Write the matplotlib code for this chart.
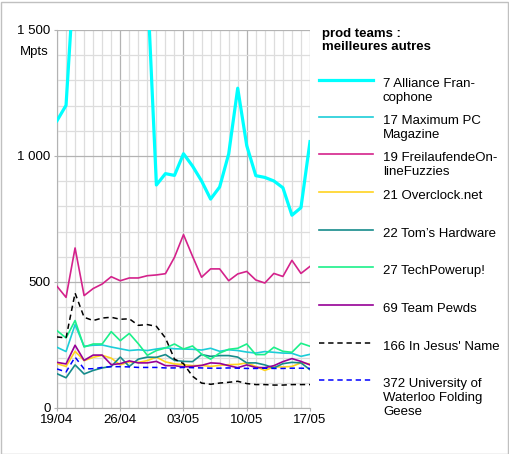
import numpy as np
import matplotlib
matplotlib.use("Agg")
import matplotlib.pyplot as plt
from matplotlib.lines import Line2D
from matplotlib.patches import Rectangle
from matplotlib.ticker import MultipleLocator, FixedLocator

plt.rcParams['font.family'] = ['Liberation Sans', 'DejaVu Sans']

days = list(range(29))
date_labels = ['19/04', '26/04', '03/05', '10/05', '17/05']
y_ticks = [0, 500, 1000, 1500]
y_labels = ['0', '500', '1 000', '1 500']

alliance = [1140, 1201, 1780, 1850, 1900, 1880, 1920, 1900, 1870, 1820, 1680, 885, 930, 923,
            1009, 960, 901, 829, 877, 1008, 1269, 1041, 922, 915, 901, 874, 765, 795, 1057]
maximum_pc = [241, 224, 331, 245, 249, 250, 242, 235, 228, 231, 228, 234, 239, 235, 234,
              233, 230, 237, 225, 231, 228, 222, 218, 224, 221, 218, 217, 205, 213]
freilaufende = [483, 439, 635, 446, 474, 492, 521, 505, 516, 516, 525, 528, 533, 598, 688,
                602, 519, 552, 552, 505, 532, 542, 508, 496, 534, 522, 586, 534, 562]
overclock = [176, 165, 225, 188, 201, 209, 198, 171, 183, 181, 188, 202, 183, 175, 172,
             168, 169, 165, 169, 172, 173, 179, 165, 149, 163, 163, 165, 179, 175]
toms = [136, 120, 171, 135, 149, 159, 165, 202, 165, 194, 202, 201, 212, 189, 185,
        184, 212, 205, 208, 208, 202, 179, 179, 171, 159, 176, 181, 179, 152]
techpowerup = [307, 278, 347, 242, 254, 254, 303, 267, 296, 255, 209, 228, 238, 254, 234,
               246, 214, 194, 218, 233, 237, 254, 212, 212, 241, 225, 221, 257, 245]
pewds = [181, 175, 249, 189, 210, 210, 172, 176, 187, 179, 179, 185, 168, 168, 163,
         165, 169, 179, 177, 168, 160, 171, 161, 160, 168, 184, 196, 185, 171]
jesus = [282, 278, 456, 360, 347, 357, 360, 352, 354, 328, 331, 324, 278, 194, 176,
         126, 99, 94, 99, 102, 106, 97, 93, 93, 91, 91, 93, 93, 93]
waterloo = [155, 143, 202, 155, 156, 161, 164, 164, 163, 161, 161, 161, 159, 159, 161,
            160, 159, 158, 158, 159, 158, 157, 157, 158, 157, 157, 158, 158, 157]

series = [
    ("7 Alliance Fran-\ncophone", alliance, '#00ffff', 2.3, '-'),
    ("17 Maximum PC\nMagazine", maximum_pc, '#1ccdd8', 1.2, '-'),
    ("19 FreilaufendeOn-\nlineFuzzies", freilaufende, '#d4228b', 1.2, '-'),
    ("21 Overclock.net", overclock, '#ffd320', 1.2, '-'),
    ("22 Tom\u2019s Hardware", toms, '#168b8b', 1.2, '-'),
    ("27 TechPowerup!", techpowerup, '#1bf08a', 1.2, '-'),
    ("69 Team Pewds", pewds, '#960096', 1.2, '-'),
    ("166 In Jesus' Name", jesus, '#000000', 1.1, (0, (3.5, 2.5))),
    ("372 University of\nWaterloo Folding\nGeese", waterloo, '#0000ff', 1.1, (0, (3.5, 2.5))),
]

fig = plt.figure(figsize=(5.1, 4.54), dpi=100)
ax = fig.add_axes([57 / 510, 46 / 454, 253 / 510, 378 / 454])

for label, vals, color, lw, ls in series:
    ax.plot(days, vals, color=color, lw=lw, ls=ls, zorder=3)

ax.set_xlim(0, 28)
ax.set_ylim(0, 1500)
ax.xaxis.set_major_locator(FixedLocator([0, 7, 14, 21, 28]))
ax.set_xticklabels(date_labels)
ax.xaxis.set_minor_locator(MultipleLocator(1))
ax.yaxis.set_major_locator(FixedLocator(y_ticks))
ax.set_yticklabels(y_labels)
ax.yaxis.set_minor_locator(MultipleLocator(100))
ax.grid(which='major', color='#b3b3b3', lw=0.9, zorder=1)
ax.grid(which='minor', color='#dddddd', lw=0.9, zorder=0)
ax.tick_params(which='major', length=2.5, color='#b3b3b3', labelsize=9.5, pad=2)
ax.tick_params(which='minor', length=0)
for s in ['top', 'right']:
    ax.spines[s].set_visible(False)
for s in ['left', 'bottom']:
    ax.spines[s].set_color('#b3b3b3')
ax.set_axisbelow(True)

fig.text(34 / 510, 1 - 52 / 454, 'Mpts', ha='center', va='center', fontsize=9.5)

# legend
fig.text(322 / 510, 1 - 28 / 454, 'prod teams :\nmeilleures autres', ha='left', va='top',
         fontsize=9.5, fontweight='bold', linespacing=1.15)
legend_y = [80, 117, 154, 192, 230, 267, 305, 343, 380]
for (label, vals, color, lw, ls), y in zip(series, legend_y):
    fy = 1 - y / 454
    fig.add_artist(Line2D([319 / 510, 373 / 510], [fy, fy], color=color, lw=lw, ls=ls))
    fig.text(383 / 510, fy + 2 / 454, label, ha='left', va='top', fontsize=9.5,
             linespacing=1.2)

fig.add_artist(Rectangle((0.5 / 510, 0.5 / 454), 508 / 510, 452 / 454, fill=False,
                         edgecolor='#c0c0c0', lw=1, transform=fig.transFigure))

fig.savefig('out.png', dpi=100)
